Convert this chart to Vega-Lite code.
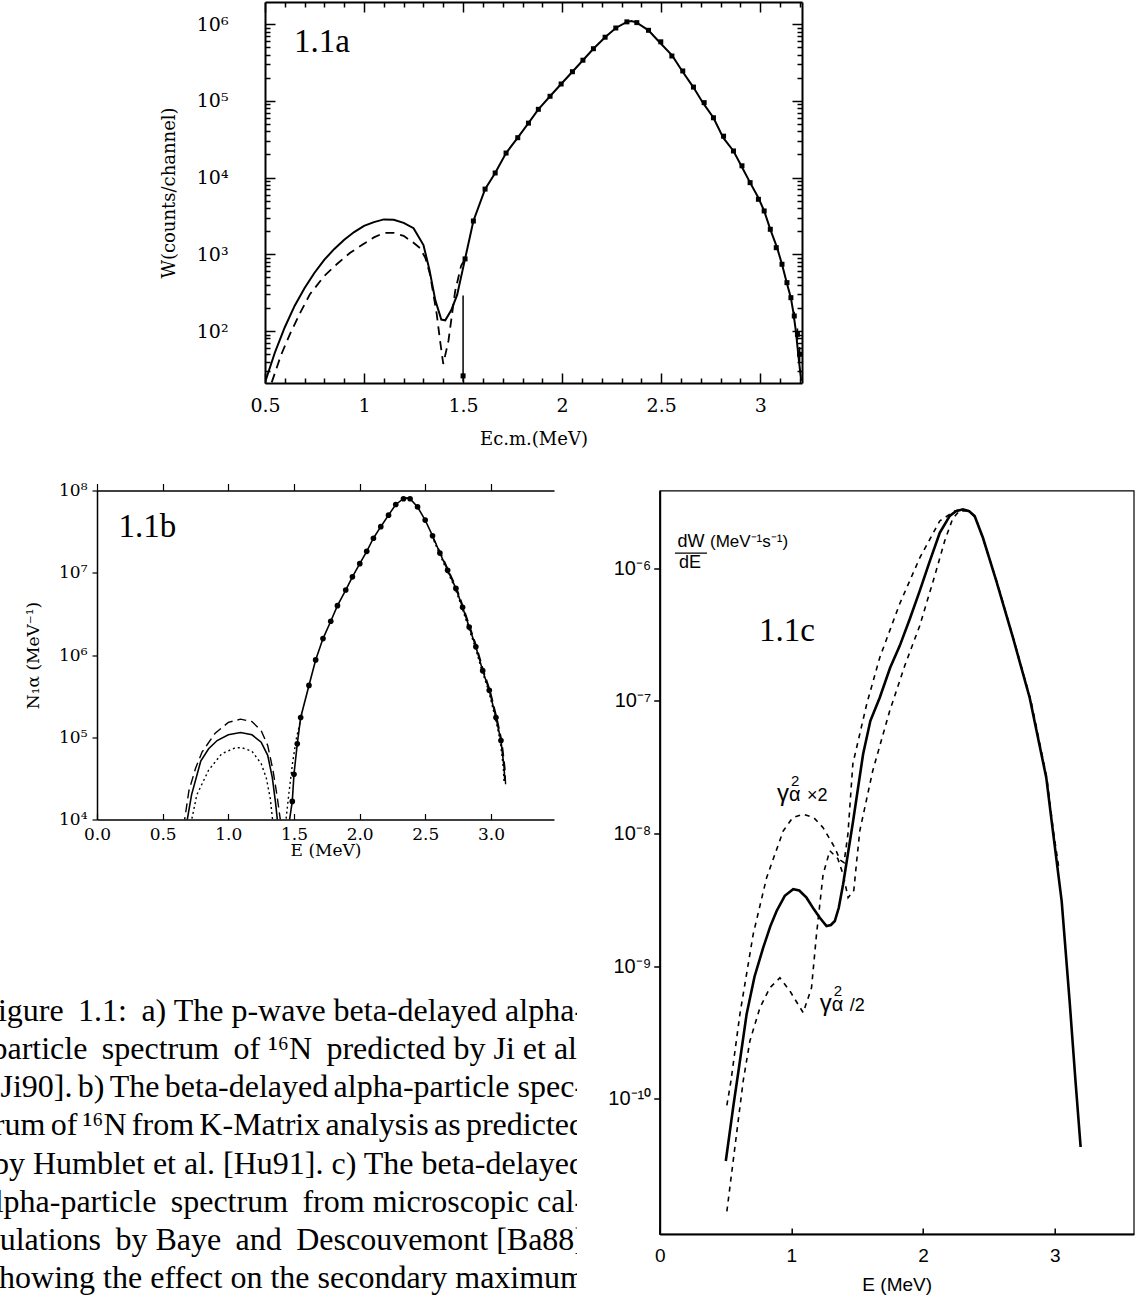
{
"$schema": "https://vega.github.io/schema/vega-lite/v6.json",
"background": "white",
"padding": {"left": 0, "top": 1, "right": 0, "bottom": 0},
"config": {
  "view": {"stroke": null},
  "axis": {"grid": false, "domainColor": "black", "tickColor": "black", "labelColor": "black", "titleColor": "black", "labelOverlap": false, "labelFlush": false, "titleFontWeight": "normal", "labelFont": "DejaVu Serif", "titleFont": "DejaVu Serif"},
  "text": {"color": "black"}
},
"datasets": {
  "a_solid": [{"E":0.50,"W":21.4},{"E":0.55,"W":52.5},{"E":0.60,"W":112},{"E":0.65,"W":214},{"E":0.70,"W":363},{"E":0.75,"W":575},{"E":0.80,"W":851},{"E":0.85,"W":1175},{"E":0.90,"W":1549},{"E":0.95,"W":1950},{"E":1.00,"W":2344},{"E":1.05,"W":2630},{"E":1.10,"W":2851},{"E":1.15,"W":2818},{"E":1.20,"W":2570},{"E":1.25,"W":2188},{"E":1.30,"W":1318},{"E":1.33,"W":631},{"E":1.36,"W":251},{"E":1.39,"W":141},{"E":1.41,"W":138},{"E":1.44,"W":186},{"E":1.47,"W":295},{"E":1.51,"W":871},{"E":1.552,"W":2716},{"E":1.611,"W":7079},{"E":1.662,"W":11482},{"E":1.717,"W":20893},{"E":1.776,"W":33113},{"E":1.83,"W":51286},{"E":1.88,"W":77625},{"E":1.939,"W":114815},{"E":1.995,"W":165959},{"E":2.052,"W":239883},{"E":2.105,"W":338844},{"E":2.158,"W":478630},{"E":2.217,"W":676083},{"E":2.271,"W":891251},{"E":2.327,"W":1071519},{"E":2.35,"W":1096478},{"E":2.377,"W":1047129},{"E":2.436,"W":831764},{"E":2.486,"W":602560},{"E":2.556,"W":389045},{"E":2.606,"W":245471},{"E":2.662,"W":151356},{"E":2.712,"W":93325},{"E":2.764,"W":60256},{"E":2.813,"W":33113},{"E":2.865,"W":22233},{"E":2.899,"W":15136},{"E":2.949,"W":8590},{"E":2.99,"W":5495},{"E":3.02,"W":3673},{"E":3.051,"W":2118},{"E":3.086,"W":1202},{"E":3.11,"W":741},{"E":3.136,"W":407},{"E":3.155,"W":269},{"E":3.167,"W":178},{"E":3.18,"W":100},{"E":3.192,"W":50},{"E":3.207,"W":22.4}],
  "a_dashed": [{"E":0.534,"W":21.4},{"E":0.58,"W":47.9},{"E":0.626,"W":91.2},{"E":0.68,"W":178},{"E":0.727,"W":302},{"E":0.80,"W":525},{"E":0.862,"W":741},{"E":0.93,"W":1047},{"E":0.995,"W":1349},{"E":1.05,"W":1660},{"E":1.10,"W":1905},{"E":1.15,"W":1905},{"E":1.20,"W":1738},{"E":1.25,"W":1413},{"E":1.283,"W":1202},{"E":1.31,"W":891},{"E":1.333,"W":550},{"E":1.367,"W":166},{"E":1.385,"W":70.8},{"E":1.40,"W":37.2},{"E":1.426,"W":74.1},{"E":1.46,"W":331},{"E":1.49,"W":708},{"E":1.51,"W":871}],
  "a_pts": [{"E":1.50,"W":26},{"E":1.51,"W":871},{"E":1.552,"W":2716},{"E":1.611,"W":7079},{"E":1.662,"W":11482},{"E":1.717,"W":20893},{"E":1.776,"W":33113},{"E":1.83,"W":51286},{"E":1.88,"W":77625},{"E":1.939,"W":114815},{"E":1.995,"W":165959},{"E":2.052,"W":239883},{"E":2.105,"W":338844},{"E":2.158,"W":478630},{"E":2.217,"W":676083},{"E":2.271,"W":891251},{"E":2.327,"W":1071519},{"E":2.377,"W":1047129},{"E":2.436,"W":831764},{"E":2.498,"W":588844},{"E":2.554,"W":384592},{"E":2.609,"W":245471},{"E":2.663,"W":151356},{"E":2.717,"W":94842},{"E":2.764,"W":60256},{"E":2.815,"W":34674},{"E":2.865,"W":22233},{"E":2.908,"W":14256},{"E":2.949,"W":8590},{"E":2.991,"W":5212},{"E":3.02,"W":3673},{"E":3.051,"W":2118},{"E":3.081,"W":1219},{"E":3.11,"W":741},{"E":3.135,"W":427},{"E":3.155,"W":272},{"E":3.172,"W":157},{"E":3.188,"W":90.6},{"E":3.199,"W":49.7}],
  "a_err": [{"E":1.50,"lo":22,"hi":290},{"E":3.172,"lo":140,"hi":178},{"E":3.188,"lo":76,"hi":108},{"E":3.199,"lo":40,"hi":62}],
  "b_solid": [{"E":0.68,"N":8511},{"E":0.72,"N":19953},{"E":0.79,"N":51286},{"E":0.85,"N":72444},{"E":0.915,"N":91201},{"E":1.0,"N":107152},{"E":1.093,"N":114025},{"E":1.18,"N":107152},{"E":1.25,"N":87096},{"E":1.30,"N":60256},{"E":1.335,"N":32359},{"E":1.36,"N":15849},{"E":1.373,"N":10000},{"E":1.38,"N":7943},{"E":1.462,"N":8913},{"E":1.487,"N":16596},{"E":1.50,"N":35481},{"E":1.525,"N":83176},{"E":1.551,"N":173780},{"E":1.614,"N":426580},{"E":1.665,"N":870964},{"E":1.721,"N":1584893},{"E":1.78,"N":2570396},{"E":1.831,"N":3981072},{"E":1.894,"N":6165950},{"E":1.945,"N":8912509},{"E":2.001,"N":12882496},{"E":2.054,"N":18197009},{"E":2.105,"N":26302680},{"E":2.161,"N":36307805},{"E":2.22,"N":50118723},{"E":2.275,"N":67608298},{"E":2.334,"N":79432823},{"E":2.36,"N":81283052},{"E":2.384,"N":79432823},{"E":2.441,"N":63095734},{"E":2.499,"N":43651583},{"E":2.555,"N":28183829},{"E":2.611,"N":17378008},{"E":2.67,"N":10715193},{"E":2.733,"N":6456542},{"E":2.784,"N":3801894},{"E":2.834,"N":2187762},{"E":2.885,"N":1258925},{"E":2.937,"N":645654},{"E":2.987,"N":371535},{"E":3.038,"N":173780},{"E":3.076,"N":91201},{"E":3.10,"N":42658},{"E":3.105,"N":29512}],
  "b_dashed": [{"E":0.66,"N":8318,"seg":1},{"E":0.70,"N":22387,"seg":1},{"E":0.75,"N":41687,"seg":1},{"E":0.80,"N":66069,"seg":1},{"E":0.90,"N":112202,"seg":1},{"E":1.0,"N":151356,"seg":1},{"E":1.093,"N":165959,"seg":1},{"E":1.18,"N":154882,"seg":1},{"E":1.25,"N":120226,"seg":1},{"E":1.30,"N":79433,"seg":1},{"E":1.34,"N":39811,"seg":1},{"E":1.37,"N":19953,"seg":1},{"E":1.40,"N":8913,"seg":1},{"E":2.55,"N":28183829,"seg":2},{"E":2.617,"N":17378008,"seg":2},{"E":2.676,"N":10715193,"seg":2},{"E":2.739,"N":6456542,"seg":2},{"E":2.79,"N":3801894,"seg":2},{"E":2.84,"N":2187762,"seg":2},{"E":2.891,"N":1258925,"seg":2},{"E":2.943,"N":645654,"seg":2},{"E":2.993,"N":371535,"seg":2},{"E":3.044,"N":173780,"seg":2},{"E":3.082,"N":91201,"seg":2},{"E":3.106,"N":42658,"seg":2},{"E":3.112,"N":25000,"seg":2}],
  "b_dotted": [{"E":0.715,"N":8913,"seg":1},{"E":0.76,"N":19953,"seg":1},{"E":0.85,"N":39811,"seg":1},{"E":0.95,"N":63096,"seg":1},{"E":1.05,"N":74131,"seg":1},{"E":1.10,"N":74817,"seg":1},{"E":1.18,"N":67608,"seg":1},{"E":1.25,"N":47863,"seg":1},{"E":1.29,"N":31623,"seg":1},{"E":1.32,"N":17783,"seg":1},{"E":1.34,"N":8913,"seg":1},{"E":1.436,"N":8913,"seg":2},{"E":1.46,"N":19953,"seg":2},{"E":1.49,"N":50119,"seg":2},{"E":1.52,"N":100000,"seg":2},{"E":1.56,"N":190000,"seg":2},{"E":2.55,"N":28183829,"seg":3},{"E":2.605,"N":17378008,"seg":3},{"E":2.664,"N":10715193,"seg":3},{"E":2.727,"N":6456542,"seg":3},{"E":2.778,"N":3801894,"seg":3},{"E":2.828,"N":2187762,"seg":3},{"E":2.879,"N":1258925,"seg":3},{"E":2.931,"N":645654,"seg":3},{"E":2.981,"N":371535,"seg":3},{"E":3.032,"N":173780,"seg":3},{"E":3.07,"N":91201,"seg":3},{"E":3.094,"N":42658,"seg":3},{"E":3.1,"N":28000,"seg":3}],
  "b_pts": [{"E":1.487,"N":16596},{"E":1.50,"N":35481},{"E":1.525,"N":83176},{"E":1.551,"N":173780},{"E":1.614,"N":426580},{"E":1.665,"N":870964},{"E":1.721,"N":1584893},{"E":1.78,"N":2570396},{"E":1.831,"N":3981072},{"E":1.894,"N":6165950},{"E":1.945,"N":8912509},{"E":2.001,"N":12882496},{"E":2.054,"N":18197009},{"E":2.105,"N":26302680},{"E":2.161,"N":36307805},{"E":2.22,"N":50118723},{"E":2.275,"N":67608298},{"E":2.334,"N":79432823},{"E":2.384,"N":79432823},{"E":2.441,"N":63095734},{"E":2.499,"N":43651583},{"E":2.555,"N":28183829},{"E":2.611,"N":17378008},{"E":2.67,"N":10715193},{"E":2.733,"N":6456542},{"E":2.784,"N":3801894},{"E":2.834,"N":2187762},{"E":2.885,"N":1258925},{"E":2.937,"N":645654},{"E":2.987,"N":371535},{"E":3.038,"N":173780},{"E":3.076,"N":91201}],
  "c_solid": [{"E":0.502,"W":3.39e-11},{"E":0.56,"W":8.91e-11},{"E":0.60,"W":1.66e-10},{"E":0.66,"W":4.34e-10},{"E":0.72,"W":8.32e-10},{"E":0.786,"W":1.377e-9},{"E":0.84,"W":1.995e-9},{"E":0.888,"W":2.606e-9},{"E":0.95,"W":3.388e-9},{"E":1.014,"W":3.802e-9},{"E":1.06,"W":3.715e-9},{"E":1.115,"W":3.281e-9},{"E":1.17,"W":2.692e-9},{"E":1.216,"W":2.317e-9},{"E":1.267,"W":2.004e-9},{"E":1.30,"W":2.042e-9},{"E":1.33,"W":2.188e-9},{"E":1.36,"W":2.754e-9},{"E":1.393,"W":4.14e-9},{"E":1.43,"W":7.079e-9},{"E":1.469,"W":1.242e-8},{"E":1.545,"W":3.981e-8},{"E":1.60,"W":7.079e-8},{"E":1.671,"W":1.057e-7},{"E":1.75,"W":1.778e-7},{"E":1.823,"W":2.6e-7},{"E":1.90,"W":4.169e-7},{"E":1.975,"W":6.761e-7},{"E":2.05,"W":1.122e-6},{"E":2.127,"W":1.849e-6},{"E":2.203,"W":2.483e-6},{"E":2.25,"W":2.692e-6},{"E":2.303,"W":2.786e-6},{"E":2.35,"W":2.692e-6},{"E":2.392,"W":2.477e-6},{"E":2.455,"W":1.698e-6},{"E":2.557,"W":8.017e-7},{"E":2.683,"W":2.999e-7},{"E":2.81,"W":1.057e-7},{"E":2.936,"W":2.636e-8},{"E":2.986,"W":1.047e-8},{"E":3.053,"W":3.09e-9},{"E":3.113,"W":5.495e-10},{"E":3.158,"W":1.358e-10},{"E":3.197,"W":4.325e-11}],
  "c_hi": [{"E":0.51,"W":8.91e-11},{"E":0.541,"W":1.358e-10},{"E":0.609,"W":4.335e-10},{"E":0.71,"W":1.738e-9},{"E":0.812,"W":4.645e-9},{"E":0.938,"W":1.045e-8},{"E":1.01,"W":1.318e-8},{"E":1.09,"W":1.396e-8},{"E":1.17,"W":1.318e-8},{"E":1.241,"W":1.107e-8},{"E":1.33,"W":7.816e-9},{"E":1.37,"W":6.31e-9},{"E":1.40,"W":6.026e-9},{"E":1.43,"W":1.0e-8},{"E":1.467,"W":3.357e-8},{"E":1.573,"W":9.528e-8},{"E":1.671,"W":2.118e-7},{"E":1.823,"W":5.408e-7},{"E":1.975,"W":1.197e-6},{"E":2.127,"W":2.275e-6},{"E":2.241,"W":2.704e-6},{"E":2.303,"W":2.786e-6}],
  "c_lo": [{"E":0.51,"W":1.413e-11},{"E":0.634,"W":1.358e-10},{"E":0.685,"W":2.723e-10},{"E":0.761,"W":4.853e-10},{"E":0.837,"W":6.871e-10},{"E":0.913,"W":8.166e-10},{"E":0.989,"W":6.486e-10},{"E":1.09,"W":4.457e-10},{"E":1.153,"W":6.871e-10},{"E":1.191,"W":1.738e-9},{"E":1.241,"W":4.92e-9},{"E":1.292,"W":7.413e-9},{"E":1.353,"W":6.457e-9},{"E":1.393,"W":4.92e-9},{"E":1.431,"W":3.281e-9},{"E":1.474,"W":3.715e-9},{"E":1.497,"W":6.31e-9},{"E":1.52,"W":1.05e-8},{"E":1.618,"W":2.972e-8},{"E":1.747,"W":8.414e-8},{"E":1.861,"W":1.841e-7},{"E":1.975,"W":3.69e-7},{"E":2.089,"W":8.79e-7},{"E":2.165,"W":1.614e-6},{"E":2.225,"W":2.366e-6},{"E":2.278,"W":2.716e-6},{"E":2.35,"W":2.7e-6},{"E":2.40,"W":2.399e-6},{"E":2.46,"W":1.622e-6},{"E":2.56,"W":7.943e-7},{"E":2.69,"W":2.884e-7},{"E":2.82,"W":1.0e-7},{"E":2.94,"W":2.63e-8},{"E":2.99,"W":1.047e-8},{"E":3.03,"W":5.62e-9}],
  "c_txt": [{"E":0.966,"W":3.37e-7,"t":"1.1c","k":"panel"},{"E":0.238,"W":1.578e-6,"t":"dW","k":"frac"},{"E":0.231,"W":1.096e-6,"t":"dE","k":"frac"},{"E":0.382,"W":1.578e-6,"t":"(MeV⁻¹s⁻¹)","k":"unit"},{"E":0.89,"W":1.757e-8,"t":"γ","k":"g"},{"E":1.216,"W":4.58e-10,"t":"γ","k":"g"},{"E":0.89,"W":1.757e-8,"t":"α","k":"sub"},{"E":1.216,"W":4.58e-10,"t":"α","k":"sub"},{"E":0.89,"W":1.757e-8,"t":"2","k":"sup"},{"E":1.216,"W":4.58e-10,"t":"2","k":"sup"},{"E":0.89,"W":1.757e-8,"t":"×2","k":"rest"},{"E":1.216,"W":4.58e-10,"t":"/2","k":"rest"}],
  "c_frac": [{"E1":0.116,"E2":0.359,"W":1.303e-6}],
  "caption": [{"line":1,"text":"Figure \u20091.1: \u2009a) The p-wave beta-delayed alpha-"},{"line":2,"text":"particle \u2009spectrum \u2009of ¹⁶N \u2009predicted by Ji et al."},{"line":3,"text":"[Ji90].\u2006b)\u2006The\u2006beta-delayed\u2006alpha-particle spec-"},{"line":4,"text":"trum\u2006of\u2006¹⁶N\u2006from\u2006K-Matrix\u2006analysis\u2006as\u2006predicted"},{"line":5,"text":"by Humblet et al. [Hu91]. c) The beta-delayed"},{"line":6,"text":"alpha-particle \u2009spectrum \u2009from microscopic cal-"},{"line":7,"text":"culations \u2009by Baye \u2009and \u2009Descouvemont [Ba88]"},{"line":8,"text":"showing the effect on the secondary maximum"}]
},
"spacing": 488.5,
"bounds": "flush",
"vconcat": [
 {"hconcat": [
   {"width": 255, "height": 10, "data": {"values": []}, "mark": "point"},
   {"width": 537, "height": 381,
    "layer": [
     {"data": {"name": "a_solid"}, "mark": {"type": "line", "color": "black", "strokeWidth": 2, "clip": true},
      "encoding": {
       "x": {"field": "E", "type": "quantitative", "scale": {"domain": [0.5, 3.211], "nice": false, "zero": false},
             "axis": {"orient": "bottom", "values": [0.5,0.6,0.7,0.8,0.9,1,1.1,1.2,1.3,1.4,1.5,1.6,1.7,1.8,1.9,2,2.1,2.2,2.3,2.4,2.5,2.6,2.7,2.8,2.9,3,3.1,3.2],
                      "labelExpr": "abs(datum.value*2-round(datum.value*2))<0.01 ? format(datum.value,'~g') : ''",
                      "tickSize": {"condition": {"test": "abs(datum.value*2-round(datum.value*2))<0.01", "value": -10}, "value": -5},
                      "tickWidth": 1.5, "domainWidth": 2, "labelPadding": 23, "labelFontSize": 19,
                      "title": "Ec.m.(MeV)", "titleFontSize": 18, "titlePadding": 10}},
       "y": {"field": "W", "type": "quantitative", "scale": {"type": "log", "domain": [21, 1945000], "nice": false},
             "axis": {"orient": "left", "values": [30,40,50,60,70,80,90,100,200,300,400,500,600,700,800,900,1000,2000,3000,4000,5000,6000,7000,8000,9000,10000,20000,30000,40000,50000,60000,70000,80000,90000,100000,200000,300000,400000,500000,600000,700000,800000,900000,1000000],
                      "labelExpr": "abs(log(datum.value)/LN10-round(log(datum.value)/LN10))<0.001 ? '10' + ['⁰','¹','²','³','⁴','⁵','⁶','⁷','⁸','⁹'][round(log(datum.value)/LN10)] : ''",
                      "tickSize": {"condition": {"test": "abs(log(datum.value)/LN10-round(log(datum.value)/LN10))<0.001", "value": -10}, "value": -5},
                      "tickWidth": 1.5, "domainWidth": 2, "labelPadding": 47, "labelFontSize": 19,
                      "title": "W(counts/channel)", "titleFontSize": 18, "titlePadding": 18}}
      }},
     {"data": {"name": "a_dashed"}, "mark": {"type": "line", "color": "black", "strokeWidth": 1.8, "strokeDash": [9, 6], "clip": true},
      "encoding": {"x": {"field": "E", "type": "quantitative", "axis": null}, "y": {"field": "W", "type": "quantitative", "scale": {"type": "log"}, "axis": null}}},
     {"data": {"name": "a_pts"}, "mark": {"type": "square", "color": "black", "size": 25, "opacity": 1, "clip": true},
      "encoding": {
       "x": {"field": "E", "type": "quantitative",
             "axis": {"orient": "top", "values": [0.5,0.6,0.7,0.8,0.9,1,1.1,1.2,1.3,1.4,1.5,1.6,1.7,1.8,1.9,2,2.1,2.2,2.3,2.4,2.5,2.6,2.7,2.8,2.9,3,3.1,3.2], "labels": false, "title": null,
                      "tickSize": {"condition": {"test": "abs(datum.value*2-round(datum.value*2))<0.01", "value": -10}, "value": -5}, "tickWidth": 1.5, "domainWidth": 2}},
       "y": {"field": "W", "type": "quantitative", "scale": {"type": "log"},
             "axis": {"orient": "right", "values": [30,40,50,60,70,80,90,100,200,300,400,500,600,700,800,900,1000,2000,3000,4000,5000,6000,7000,8000,9000,10000,20000,30000,40000,50000,60000,70000,80000,90000,100000,200000,300000,400000,500000,600000,700000,800000,900000,1000000], "labels": false, "title": null,
                      "tickSize": {"condition": {"test": "abs(log(datum.value)/LN10-round(log(datum.value)/LN10))<0.001", "value": -10}, "value": -5}, "tickWidth": 1.5, "domainWidth": 2}}
      }},
     {"data": {"name": "a_err"}, "mark": {"type": "rule", "color": "black", "strokeWidth": 1.5},
      "encoding": {"x": {"field": "E", "type": "quantitative", "axis": null}, "y": {"field": "lo", "type": "quantitative", "scale": {"type": "log"}, "axis": null}, "y2": {"field": "hi"}}},
     {"data": {"values": [{"E": 0.788, "W": 586000, "t": "1.1a"}]}, "mark": {"type": "text", "font": "Liberation Serif", "fontSize": 33, "color": "black"},
      "encoding": {"x": {"field": "E", "type": "quantitative", "axis": null}, "y": {"field": "W", "type": "quantitative", "scale": {"type": "log"}, "axis": null}, "text": {"field": "t"}}}
    ],
    "resolve": {"axis": {"x": "independent", "y": "independent"}}
   }
  ], "spacing": 10, "bounds": "flush"},
 {"hconcat": [
   {"vconcat": [
     {"hconcat": [
       {"width": 86.7, "height": 10, "data": {"values": []}, "mark": "point"},
       {"width": 457, "height": 329,
        "layer": [
         {"data": {"name": "b_solid"}, "mark": {"type": "line", "color": "black", "strokeWidth": 1.6, "clip": true},
          "encoding": {
           "x": {"field": "E", "type": "quantitative", "scale": {"domain": [0, 3.48], "nice": false, "zero": false},
                 "axis": {"orient": "bottom", "values": [0,0.5,1,1.5,2,2.5,3], "format": ".1f", "tickSize": -6, "tickWidth": 1.2, "domainWidth": 1.5, "labelPadding": 13, "labelFontSize": 17, "title": "E (MeV)", "titleFontSize": 17, "titlePadding": 0}},
           "y": {"field": "N", "type": "quantitative", "scale": {"type": "log", "domain": [10000, 100000000], "nice": false},
                 "axis": {"orient": "left", "values": [10000,100000,1000000,10000000,100000000],
                          "labelExpr": "'10' + ['⁰','¹','²','³','⁴','⁵','⁶','⁷','⁸','⁹'][round(log(datum.value)/LN10)]",
                          "tickSize": 5, "tickWidth": 1.2, "domainWidth": 1.5, "labelPadding": 5, "labelFontSize": 17, "title": "N₁α (MeV⁻¹)", "titleFontSize": 17, "titlePadding": 16}}
          }},
         {"data": {"name": "b_dashed"}, "mark": {"type": "line", "color": "black", "strokeWidth": 1.4, "strokeDash": [9, 5], "clip": true},
          "encoding": {"x": {"field": "E", "type": "quantitative", "axis": null}, "y": {"field": "N", "type": "quantitative", "scale": {"type": "log"}, "axis": null}, "detail": {"field": "seg", "type": "nominal"}}},
         {"data": {"name": "b_dotted"}, "mark": {"type": "line", "color": "black", "strokeWidth": 1.4, "strokeDash": [2, 3], "clip": true},
          "encoding": {"x": {"field": "E", "type": "quantitative", "axis": null}, "y": {"field": "N", "type": "quantitative", "scale": {"type": "log"}, "axis": null}, "detail": {"field": "seg", "type": "nominal"}}},
         {"data": {"name": "b_pts"}, "mark": {"type": "circle", "color": "black", "size": 32, "opacity": 1, "clip": true},
          "encoding": {
           "x": {"field": "E", "type": "quantitative", "axis": {"orient": "top", "values": [0,0.5,1,1.5,2,2.5,3], "labels": false, "title": null, "tickSize": 7, "tickWidth": 1.2, "domainWidth": 1.5}},
           "y": {"field": "N", "type": "quantitative", "scale": {"type": "log"}, "axis": null}}},
         {"data": {"values": [{"E": 0.384, "N": 36000000, "t": "1.1b"}]}, "mark": {"type": "text", "font": "Liberation Serif", "fontSize": 33, "color": "black"},
          "encoding": {"x": {"field": "E", "type": "quantitative", "axis": null}, "y": {"field": "N", "type": "quantitative", "scale": {"type": "log"}, "axis": null}, "text": {"field": "t"}}}
        ],
        "resolve": {"axis": {"x": "independent", "y": "independent"}}
       }
     ], "spacing": 10, "bounds": "flush"},
     {"width": 577, "height": 305,
      "data": {"name": "caption"},
      "mark": {"type": "text", "align": "right", "baseline": "middle", "font": "Liberation Serif", "fontSize": 32, "clip": true, "dx": 8, "color": "black"},
      "encoding": {
        "y": {"field": "line", "type": "ordinal", "axis": null, "scale": {"type": "point", "padding": 0.5}},
        "x": {"datum": 1, "type": "quantitative", "scale": {"domain": [0, 1]}, "axis": null},
        "text": {"field": "text"}
      }}
   ], "spacing": 501.5, "bounds": "flush"},
   {"width": 474, "height": 743.5,
    "view": {"stroke": "black", "strokeWidth": 1.2},
    "layer": [
     {"data": {"name": "c_solid"}, "mark": {"type": "line", "color": "black", "strokeWidth": 2.6, "clip": true},
      "encoding": {
       "x": {"field": "E", "type": "quantitative", "scale": {"domain": [0, 3.6], "nice": false, "zero": false},
             "axis": {"orient": "bottom", "values": [0,1,2,3], "format": "d", "tickSize": -6, "tickWidth": 1.5, "domainWidth": 2, "labelPadding": 18, "labelFont": "Liberation Sans", "labelFontSize": 19, "title": "E (MeV)", "titleFont": "Liberation Sans", "titleFontSize": 19, "titlePadding": 10}},
       "y": {"field": "W", "type": "quantitative", "scale": {"type": "log", "domain": [9.55e-12, 3.86e-6], "nice": false},
             "axis": {"orient": "left", "values": [1e-10,1e-9,1e-8,1e-7,1e-6],
                      "labelExpr": "datum.value > 5e-7 ? '10⁻⁶' : datum.value > 5e-8 ? '10⁻⁷' : datum.value > 5e-9 ? '10⁻⁸' : datum.value > 5e-10 ? '10⁻⁹' : '10⁻¹⁰'",
                      "tickSize": 6, "tickWidth": 1.5, "domainWidth": 2, "labelPadding": 3, "labelFont": "Liberation Sans", "labelFontSize": 20, "title": null}}
      }},
     {"data": {"name": "c_hi"}, "mark": {"type": "line", "color": "black", "strokeWidth": 1.6, "strokeDash": [5, 5], "clip": true},
      "encoding": {"x": {"field": "E", "type": "quantitative"}, "y": {"field": "W", "type": "quantitative", "scale": {"type": "log"}}}},
     {"data": {"name": "c_lo"}, "mark": {"type": "line", "color": "black", "strokeWidth": 1.6, "strokeDash": [5, 5], "clip": true},
      "encoding": {"x": {"field": "E", "type": "quantitative"}, "y": {"field": "W", "type": "quantitative", "scale": {"type": "log"}}}},
     {"data": {"name": "c_frac"}, "mark": {"type": "rule", "color": "black", "strokeWidth": 1.3},
      "encoding": {"x": {"field": "E1", "type": "quantitative"}, "x2": {"field": "E2"}, "y": {"field": "W", "type": "quantitative", "scale": {"type": "log"}}}},
     {"data": {"name": "c_txt"}, "transform": [{"filter": "datum.k == 'panel'"}], "mark": {"type": "text", "font": "Liberation Serif", "fontSize": 33, "color": "black"},
      "encoding": {"x": {"field": "E", "type": "quantitative"}, "y": {"field": "W", "type": "quantitative", "scale": {"type": "log"}}, "text": {"field": "t"}}},
     {"data": {"name": "c_txt"}, "transform": [{"filter": "datum.k == 'frac'"}], "mark": {"type": "text", "font": "Liberation Sans", "fontSize": 18, "color": "black"},
      "encoding": {"x": {"field": "E", "type": "quantitative"}, "y": {"field": "W", "type": "quantitative", "scale": {"type": "log"}}, "text": {"field": "t"}}},
     {"data": {"name": "c_txt"}, "transform": [{"filter": "datum.k == 'unit'"}], "mark": {"type": "text", "font": "Liberation Sans", "fontSize": 17, "align": "left", "color": "black"},
      "encoding": {"x": {"field": "E", "type": "quantitative"}, "y": {"field": "W", "type": "quantitative", "scale": {"type": "log"}}, "text": {"field": "t"}}},
     {"data": {"name": "c_txt"}, "transform": [{"filter": "datum.k == 'g'"}], "mark": {"type": "text", "font": "Liberation Sans", "fontSize": 24, "align": "left", "baseline": "alphabetic", "color": "black"},
      "encoding": {"x": {"field": "E", "type": "quantitative"}, "y": {"field": "W", "type": "quantitative", "scale": {"type": "log"}}, "text": {"field": "t"}}},
     {"data": {"name": "c_txt"}, "transform": [{"filter": "datum.k == 'sub'"}], "mark": {"type": "text", "font": "Liberation Sans", "fontSize": 20, "align": "left", "baseline": "alphabetic", "dx": 12, "color": "black"},
      "encoding": {"x": {"field": "E", "type": "quantitative"}, "y": {"field": "W", "type": "quantitative", "scale": {"type": "log"}}, "text": {"field": "t"}}},
     {"data": {"name": "c_txt"}, "transform": [{"filter": "datum.k == 'sup'"}], "mark": {"type": "text", "font": "Liberation Sans", "fontSize": 15, "align": "left", "baseline": "alphabetic", "dx": 14, "dy": -15, "color": "black"},
      "encoding": {"x": {"field": "E", "type": "quantitative"}, "y": {"field": "W", "type": "quantitative", "scale": {"type": "log"}}, "text": {"field": "t"}}},
     {"data": {"name": "c_txt"}, "transform": [{"filter": "datum.k == 'rest'"}], "mark": {"type": "text", "font": "Liberation Sans", "fontSize": 18, "align": "left", "baseline": "alphabetic", "dx": 30, "color": "black"},
      "encoding": {"x": {"field": "E", "type": "quantitative"}, "y": {"field": "W", "type": "quantitative", "scale": {"type": "log"}}, "text": {"field": "t"}}}
    ]
   }
 ], "spacing": 659.7, "bounds": "flush"}
]
}
